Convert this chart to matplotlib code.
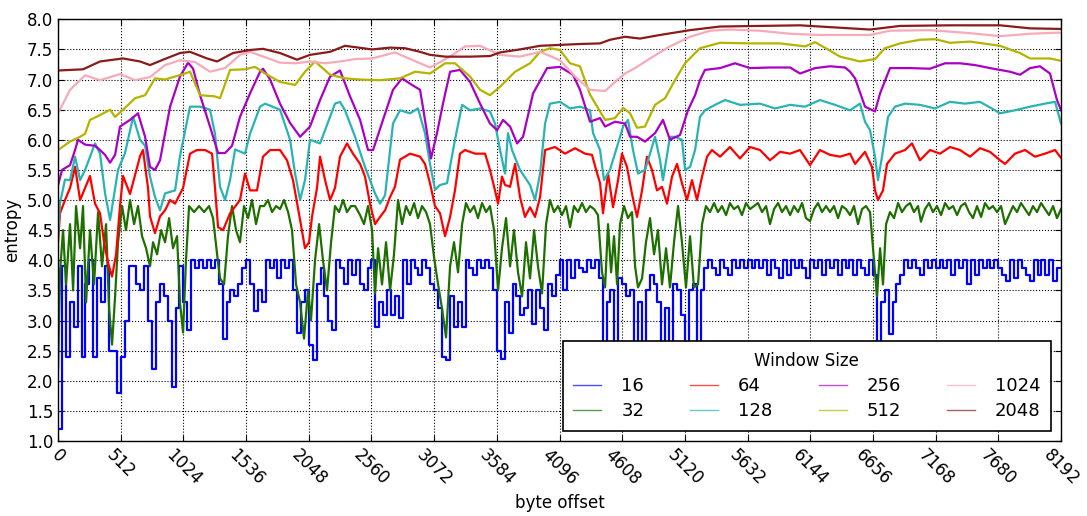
import numpy as np
import matplotlib
matplotlib.use("Agg")
import matplotlib.pyplot as plt
from matplotlib.lines import Line2D

# window sizes and their colours
windows = ["16", "32", "64", "128", "256", "512", "1024", "2048"]
colors = ["#0000ff", "#1d6f00", "#ff0000", "#2ab3b3",
          "#aa00c3", "#b4b400", "#f7aab8", "#8b1a1a"]

# window 16: one value every 32 bytes (quantised entropy)
w16_x = np.arange(0, 8193, 32)
w16_y = [
    1.2, 3.9, 2.4, 3.3, 2.9, 3.9, 2.4, 3.6, 4.0, 2.4, 3.7, 3.3, 3.9, 2.5, 2.5, 1.8,
    2.4, 3.0, 3.9, 3.9, 3.6, 3.5, 3.9, 3.0, 2.2, 3.3, 3.6, 3.4, 3.0, 1.9, 3.2, 3.9,
    3.3, 2.85, 4.0, 3.875, 4.0, 3.875, 4.0, 3.875, 4.0, 3.6, 2.7, 3.3, 3.5, 3.4, 3.6, 3.875,
    4.0, 3.6, 3.15, 3.5, 3.3, 4.0, 3.875, 4.0, 3.7, 4.0, 3.875, 4.0, 3.5, 2.8, 3.3, 3.5,
    2.6, 2.35, 3.6, 3.875, 3.4, 3.0, 2.85, 4.0, 3.875, 3.6, 4.0, 3.75, 4.0, 3.6, 3.5, 3.875,
    4.0, 2.9, 3.3, 3.1, 3.5, 3.1, 3.4, 3.05, 4.0, 3.6, 4.0, 3.875, 3.75, 4.0, 3.875, 3.6,
    3.5, 3.2, 2.4, 2.35, 3.4, 2.9, 3.3, 2.9, 4.0, 3.875, 3.75, 4.0, 3.875, 4.0, 3.875, 3.5,
    2.5, 2.36, 3.3, 2.8, 3.6, 3.4, 3.1, 3.2, 3.5, 2.95, 3.5, 3.2, 2.85, 3.6, 3.4, 3.75,
    4.0, 3.5, 4.0, 3.7, 4.0, 3.875, 3.8, 4.0, 3.875, 4.0, 3.7, 2.3, 3.3, 3.5, 2.5, 3.7,
    3.6, 3.4, 3.5, 2.3, 3.3, 2.4, 3.5, 3.75, 3.6, 3.3, 2.3, 3.2, 2.4, 3.6, 3.5, 3.1,
    2.3, 3.5, 3.6, 2.6, 3.5, 3.875, 4.0, 3.875, 3.75, 4.0, 3.875, 3.75, 4.0, 3.875, 4.0, 3.875,
    4.0, 3.875, 4.0, 3.875, 4.0, 3.75, 4.0, 3.875, 3.7, 4.0, 3.75, 4.0, 3.875, 4.0, 3.875, 3.7,
    4.0, 3.875, 4.0, 3.75, 4.0, 3.875, 4.0, 3.75, 4.0, 3.875, 4.0, 3.75, 4.0, 3.875, 3.75, 4.0,
    3.75, 2.65, 3.3, 3.5, 2.78, 3.3, 3.6, 3.75, 4.0, 3.875, 4.0, 3.875, 3.75, 4.0, 3.875, 4.0,
    3.875, 4.0, 3.875, 4.0, 3.75, 4.0, 3.875, 4.0, 3.6, 4.0, 3.75, 4.0, 3.875, 4.0, 3.875, 4.0,
    3.875, 3.75, 3.65, 4.0, 3.7, 4.0, 3.875, 3.75, 3.65, 4.0, 3.75, 4.0, 3.75, 4.0, 3.65, 3.875,
    3.875,
]

# the other windows: (byte offset, entropy) pairs
w32 = [
    (0, 2.2), (16, 3.8), (41, 4.5), (65, 3.6), (98, 4.6), (123, 3.5), (147, 4.9), (180, 4.2),
    (204, 4.9), (229, 3.3), (261, 4.5), (294, 3.6), (327, 4.8), (359, 3.9), (392, 4.6), (417, 3.2),
    (441, 2.6), (466, 3.4), (490, 4.3), (523, 4.9), (555, 4.5), (588, 5.0), (621, 4.6), (653, 4.9),
    (686, 4.4), (719, 4.2), (751, 3.9), (776, 4.3), (809, 4.1), (841, 4.5), (874, 4.3), (907, 4.7),
    (939, 4.2), (972, 4.4), (996, 3.3), (1021, 2.8), (1045, 4.0), (1070, 4.9), (1111, 4.8), (1152, 4.9),
    (1193, 4.8), (1233, 4.9), (1266, 4.7), (1299, 4.1), (1323, 3.7), (1356, 3.6), (1388, 4.4), (1421, 4.9),
    (1454, 4.5), (1486, 4.3), (1519, 4.9), (1552, 4.7), (1584, 5.0), (1617, 4.6), (1650, 4.9), (1683, 4.9),
    (1715, 5.0), (1748, 4.8), (1781, 4.9), (1813, 4.85), (1846, 5.0), (1879, 4.8), (1911, 4.5), (1944, 3.6),
    (1977, 3.3), (2009, 2.7), (2042, 3.5), (2066, 3.0), (2099, 4.0), (2132, 4.6), (2164, 4.0), (2197, 3.5),
    (2230, 4.3), (2262, 4.9), (2295, 4.8), (2328, 5.0), (2360, 4.8), (2393, 4.9), (2426, 4.9), (2467, 4.75),
    (2499, 4.6), (2532, 4.9), (2565, 4.5), (2589, 3.45), (2614, 4.2), (2646, 3.6), (2679, 4.3), (2712, 3.5),
    (2744, 4.1), (2777, 5.0), (2810, 4.6), (2842, 4.9), (2875, 4.75), (2908, 4.95), (2940, 4.7), (2973, 4.9),
    (3006, 4.8), (3038, 4.6), (3071, 4.05), (3104, 3.6), (3136, 3.2), (3169, 2.72), (3202, 3.9), (3234, 4.3),
    (3267, 3.8), (3300, 4.6), (3332, 4.95), (3365, 4.8), (3398, 4.9), (3430, 4.7), (3463, 4.95), (3496, 4.8),
    (3528, 4.9), (3561, 4.5), (3594, 3.5), (3626, 4.2), (3659, 4.7), (3692, 3.9), (3724, 4.5), (3757, 3.8),
    (3790, 3.4), (3822, 4.3), (3855, 3.7), (3888, 4.5), (3920, 3.9), (3953, 3.45), (3986, 4.6), (4018, 5.0),
    (4051, 4.8), (4084, 4.9), (4116, 4.75), (4149, 4.9), (4182, 4.55), (4214, 4.9), (4247, 4.8), (4280, 4.95),
    (4312, 4.8), (4345, 4.9), (4378, 4.85), (4410, 4.75), (4443, 3.8), (4468, 3.55), (4492, 4.6), (4517, 3.8),
    (4541, 4.4), (4566, 3.6), (4590, 4.6), (4623, 4.9), (4655, 4.7), (4688, 4.8), (4713, 3.9), (4737, 3.55),
    (4770, 3.7), (4802, 4.3), (4835, 4.7), (4868, 4.1), (4900, 4.5), (4933, 3.6), (4966, 4.2), (4998, 3.55),
    (5031, 4.3), (5064, 4.9), (5096, 4.3), (5129, 3.55), (5162, 4.4), (5194, 3.55), (5227, 3.6), (5260, 4.6),
    (5292, 4.9), (5325, 4.8), (5358, 4.95), (5390, 4.8), (5423, 4.9), (5456, 4.75), (5488, 4.95), (5521, 4.85),
    (5554, 4.9), (5586, 4.75), (5619, 4.95), (5652, 4.85), (5685, 4.9), (5717, 4.95), (5750, 4.8), (5783, 4.9),
    (5815, 4.6), (5848, 4.85), (5881, 4.95), (5913, 4.8), (5946, 4.9), (5979, 4.75), (6011, 4.9), (6044, 4.8),
    (6077, 4.95), (6109, 4.7), (6142, 4.65), (6175, 4.85), (6207, 4.95), (6240, 4.8), (6273, 4.9), (6305, 4.8),
    (6338, 4.9), (6371, 4.7), (6403, 4.9), (6436, 4.85), (6469, 4.75), (6501, 4.9), (6534, 4.6), (6567, 4.85),
    (6599, 4.9), (6632, 4.8), (6665, 4.0), (6689, 3.4), (6714, 4.2), (6738, 3.6), (6763, 4.6), (6795, 4.8),
    (6828, 4.7), (6861, 4.95), (6893, 4.8), (6926, 4.9), (6959, 4.95), (6991, 4.8), (7024, 4.9), (7048, 4.64),
    (7081, 4.85), (7114, 4.95), (7146, 4.8), (7179, 4.9), (7212, 4.75), (7245, 4.95), (7277, 4.85), (7310, 4.9),
    (7343, 4.75), (7375, 4.9), (7408, 4.95), (7441, 4.8), (7473, 4.7), (7506, 4.9), (7539, 4.72), (7571, 4.95),
    (7604, 4.85), (7636, 4.9), (7669, 4.8), (7702, 4.9), (7735, 4.6), (7767, 4.75), (7800, 4.9), (7833, 4.8),
    (7865, 4.95), (7898, 4.85), (7931, 4.75), (7963, 4.9), (7996, 4.8), (8029, 4.95), (8061, 4.85), (8094, 4.75),
    (8127, 4.9), (8159, 4.7), (8192, 4.85),
]

w64 = [
    (0, 4.3), (16, 4.78), (57, 5.0), (98, 5.2), (139, 5.55), (180, 5.0), (221, 5.2), (261, 5.4),
    (302, 4.94), (343, 4.78), (376, 4.3), (408, 3.96), (441, 3.73), (474, 4.1), (506, 4.9), (531, 5.4),
    (588, 5.1), (670, 5.73), (694, 5.83), (735, 5.2), (751, 4.73), (792, 4.45), (833, 4.73), (874, 4.83),
    (915, 5.0), (956, 4.94), (1021, 5.2), (1078, 5.77), (1135, 5.83), (1201, 5.83), (1258, 5.77), (1282, 5.2),
    (1307, 4.55), (1348, 4.5), (1405, 4.78), (1486, 5.0), (1527, 5.44), (1568, 5.16), (1625, 5.16), (1674, 5.72),
    (1732, 5.83), (1813, 5.83), (1870, 5.66), (1919, 5.33), (1977, 4.67), (2017, 4.2), (2050, 4.3), (2075, 4.73),
    (2115, 5.2), (2140, 5.72), (2181, 5.33), (2222, 5.0), (2262, 5.2), (2303, 5.72), (2360, 5.94), (2409, 5.77),
    (2467, 5.6), (2507, 5.39), (2548, 4.94), (2589, 4.6), (2630, 4.72), (2671, 4.83), (2712, 5.05), (2752, 5.22),
    (2793, 5.67), (2875, 5.77), (2957, 5.72), (2997, 5.6), (3038, 5.28), (3079, 4.9), (3120, 4.78), (3161, 4.4),
    (3202, 4.72), (3242, 5.16), (3283, 5.77), (3324, 5.83), (3406, 5.77), (3488, 5.77), (3528, 5.5), (3569, 5.16),
    (3594, 4.94), (3626, 5.39), (3651, 5.25), (3692, 5.22), (3733, 5.6), (3773, 5.05), (3814, 4.72), (3855, 4.88),
    (3896, 4.72), (3937, 5.05), (3978, 5.83), (4059, 5.88), (4141, 5.77), (4223, 5.86), (4304, 5.77), (4361, 5.75),
    (4402, 5.45), (4427, 5.28), (4451, 4.78), (4492, 5.44), (4533, 4.88), (4574, 5.33), (4606, 5.77), (4647, 5.55),
    (4688, 5.1), (4729, 4.72), (4770, 5.16), (4810, 5.72), (4851, 5.5), (4892, 5.16), (4933, 5.22), (4974, 4.94),
    (5015, 5.39), (5056, 5.6), (5096, 5.28), (5137, 5.0), (5178, 5.33), (5219, 5.0), (5260, 5.39), (5301, 5.72),
    (5341, 5.83), (5407, 5.72), (5488, 5.88), (5570, 5.69), (5652, 5.88), (5734, 5.83), (5815, 5.66), (5897, 5.8),
    (5979, 5.77), (6060, 5.83), (6142, 5.58), (6223, 5.83), (6305, 5.75), (6387, 5.72), (6469, 5.77), (6510, 5.6),
    (6591, 5.8), (6648, 5.55), (6673, 5.16), (6697, 5.0), (6738, 5.16), (6771, 5.6), (6836, 5.77), (6918, 5.83),
    (6975, 5.94), (7040, 5.66), (7122, 5.83), (7204, 5.77), (7285, 5.88), (7367, 5.83), (7449, 5.72), (7530, 5.86),
    (7612, 5.8), (7694, 5.66), (7735, 5.6), (7816, 5.77), (7898, 5.83), (7980, 5.72), (8061, 5.77), (8143, 5.83),
    (8192, 5.7),
]

w128 = [
    (0, 4.4), (16, 4.95), (57, 5.34), (98, 5.33), (139, 5.72), (180, 5.33), (221, 5.5), (302, 5.94),
    (343, 5.77), (384, 5.11), (425, 4.67), (490, 5.5), (547, 5.78), (613, 6.38), (670, 6.0), (711, 5.9),
    (751, 5.39), (792, 5.05), (833, 4.83), (874, 5.11), (956, 5.16), (996, 5.73), (1078, 6.55), (1160, 6.55),
    (1241, 6.5), (1282, 6.1), (1323, 5.22), (1364, 5.0), (1405, 5.33), (1446, 5.84), (1527, 5.77), (1568, 6.1),
    (1650, 6.55), (1691, 6.6), (1813, 6.5), (1895, 6.0), (1936, 5.44), (1977, 5.0), (2017, 5.33), (2058, 6.0),
    (2140, 5.94), (2181, 6.16), (2262, 6.6), (2303, 6.63), (2344, 6.49), (2426, 6.05), (2507, 5.55), (2589, 5.11),
    (2630, 4.94), (2671, 5.08), (2736, 6.27), (2793, 6.49), (2875, 6.44), (2940, 6.52), (2997, 6.11), (3038, 5.6),
    (3079, 5.17), (3120, 5.25), (3177, 5.28), (3242, 6.0), (3300, 6.58), (3365, 6.49), (3447, 6.52), (3528, 6.47),
    (3569, 6.27), (3610, 5.83), (3651, 5.44), (3675, 6.11), (3708, 5.83), (3773, 5.5), (3855, 5.25), (3896, 5.0),
    (3937, 5.44), (3978, 6.27), (4018, 6.6), (4100, 6.63), (4182, 6.52), (4263, 6.55), (4345, 6.49), (4370, 6.11),
    (4427, 5.83), (4459, 5.33), (4508, 5.5), (4574, 5.94), (4615, 6.22), (4655, 6.33), (4696, 5.83), (4737, 5.44),
    (4794, 5.5), (4835, 5.77), (4876, 6.05), (4917, 5.66), (4941, 5.33), (4998, 6.05), (5039, 6.05), (5096, 6.0),
    (5121, 5.5), (5162, 5.55), (5203, 5.83), (5243, 6.38), (5284, 6.49), (5366, 6.58), (5448, 6.66), (5570, 6.58),
    (5734, 6.6), (5856, 6.52), (5979, 6.58), (6101, 6.55), (6223, 6.66), (6346, 6.58), (6469, 6.49), (6550, 6.6),
    (6591, 6.3), (6632, 6.16), (6673, 5.72), (6697, 5.33), (6730, 5.72), (6779, 6.38), (6836, 6.55), (6918, 6.6),
    (7040, 6.58), (7163, 6.52), (7285, 6.63), (7408, 6.6), (7530, 6.63), (7653, 6.49), (7694, 6.44), (7816, 6.49),
    (7939, 6.55), (8061, 6.6), (8143, 6.63), (8192, 6.27),
]

w256 = [
    (0, 5.25), (33, 5.5), (98, 5.58), (139, 5.83), (163, 6.0), (221, 5.92), (302, 5.9), (343, 5.83),
    (384, 5.75), (425, 5.62), (466, 5.75), (506, 6.22), (588, 6.33), (653, 6.44), (711, 6.05), (751, 5.55),
    (792, 5.5), (833, 5.66), (915, 6.55), (996, 7.05), (1062, 7.28), (1103, 7.18), (1160, 6.74), (1241, 6.22),
    (1307, 5.78), (1364, 5.78), (1421, 5.9), (1486, 6.38), (1568, 6.77), (1650, 7.13), (1674, 7.18), (1732, 7.0),
    (1813, 6.6), (1895, 6.28), (1977, 6.05), (2058, 6.22), (2140, 6.66), (2222, 7.05), (2303, 7.15), (2385, 6.72),
    (2467, 6.33), (2532, 5.83), (2573, 5.83), (2654, 6.33), (2736, 6.83), (2810, 7.02), (2891, 6.91), (2957, 6.83),
    (2997, 6.33), (3046, 5.69), (3095, 6.11), (3144, 6.6), (3202, 7.13), (3283, 7.16), (3365, 6.96), (3447, 6.6),
    (3528, 6.27), (3586, 6.16), (3635, 6.33), (3692, 6.22), (3749, 5.94), (3798, 6.05), (3880, 6.77), (3994, 7.19),
    (4100, 7.21), (4206, 7.08), (4263, 6.83), (4345, 6.3), (4427, 6.36), (4468, 6.22), (4549, 6.3), (4631, 6.27),
    (4672, 6.05), (4729, 6.05), (4794, 5.97), (4876, 6.11), (4941, 6.33), (4998, 6.0), (5080, 6.08), (5145, 6.49),
    (5203, 6.74), (5243, 6.99), (5284, 7.16), (5407, 7.19), (5529, 7.27), (5652, 7.19), (5815, 7.2), (5979, 7.2),
    (6060, 7.1), (6183, 7.19), (6305, 7.22), (6428, 7.2), (6469, 7.13), (6510, 7.02), (6591, 6.55), (6673, 6.47),
    (6714, 6.77), (6795, 7.19), (6959, 7.19), (7122, 7.18), (7245, 7.27), (7367, 7.27), (7490, 7.24), (7612, 7.19),
    (7775, 7.13), (7857, 7.08), (7939, 7.19), (8020, 7.22), (8102, 7.1), (8159, 6.66), (8192, 6.49),
]

w512 = [
    (0, 5.83), (98, 5.97), (180, 6.05), (221, 6.1), (261, 6.33), (343, 6.41), (425, 6.5), (466, 6.38),
    (547, 6.53), (629, 6.69), (711, 6.74), (792, 7.02), (874, 7.0), (956, 7.05), (1037, 7.1), (1078, 7.13),
    (1160, 6.74), (1282, 6.72), (1323, 6.69), (1405, 7.16), (1527, 7.17), (1609, 7.21), (1691, 7.1), (1813, 6.96),
    (1936, 6.91), (2017, 7.13), (2099, 7.3), (2222, 7.08), (2344, 7.02), (2467, 7.0), (2630, 6.99), (2793, 7.02),
    (2916, 7.13), (3038, 7.1), (3161, 7.27), (3242, 7.27), (3365, 7.05), (3447, 6.83), (3528, 6.74), (3610, 6.88),
    (3733, 7.13), (3855, 7.27), (3937, 7.46), (4018, 7.52), (4100, 7.49), (4182, 7.27), (4263, 7.22), (4345, 6.75),
    (4427, 6.47), (4468, 6.33), (4549, 6.36), (4615, 6.53), (4672, 6.44), (4729, 6.2), (4794, 6.22), (4876, 6.58),
    (4958, 6.69), (5039, 6.99), (5121, 7.27), (5243, 7.52), (5407, 7.61), (5652, 7.6), (5897, 7.6), (6101, 7.55),
    (6183, 7.62), (6305, 7.48), (6387, 7.38), (6550, 7.3), (6673, 7.34), (6754, 7.52), (6877, 7.6), (7040, 7.66),
    (7163, 7.67), (7285, 7.61), (7449, 7.63), (7694, 7.56), (7857, 7.44), (7939, 7.35), (8102, 7.35), (8192, 7.31),
]

w1024 = [
    (0, 6.44), (98, 6.83), (221, 7.07), (343, 6.99), (506, 7.09), (629, 6.99), (751, 7.04), (874, 7.24),
    (996, 7.32), (1119, 7.29), (1241, 7.13), (1364, 7.19), (1486, 7.41), (1568, 7.46), (1691, 7.37), (1813, 7.28),
    (1936, 7.27), (2058, 7.3), (2181, 7.27), (2303, 7.3), (2426, 7.34), (2565, 7.35), (2752, 7.45), (2957, 7.27),
    (3038, 7.2), (3202, 7.38), (3324, 7.55), (3447, 7.56), (3610, 7.41), (3773, 7.38), (3937, 7.46), (4100, 7.32),
    (4223, 7.05), (4345, 6.83), (4468, 6.81), (4549, 6.96), (4631, 7.1), (4713, 7.19), (4835, 7.35), (4998, 7.55),
    (5162, 7.71), (5325, 7.81), (5488, 7.83), (5734, 7.81), (5979, 7.76), (6223, 7.74), (6469, 7.74), (6632, 7.74),
    (6795, 7.81), (7122, 7.82), (7449, 7.77), (7694, 7.72), (7939, 7.76), (8192, 7.78),
]

w2048 = [
    (0, 7.15), (204, 7.17), (343, 7.3), (531, 7.35), (670, 7.3), (751, 7.24), (858, 7.33), (996, 7.44),
    (1078, 7.46), (1217, 7.35), (1299, 7.3), (1429, 7.44), (1568, 7.49), (1674, 7.51), (1813, 7.44), (1952, 7.33),
    (2058, 7.41), (2222, 7.46), (2344, 7.56), (2565, 7.5), (2712, 7.53), (2834, 7.52), (2957, 7.46), (3038, 7.41),
    (3161, 7.38), (3365, 7.38), (3528, 7.39), (3610, 7.45), (3773, 7.5), (3937, 7.56), (4263, 7.59), (4427, 7.6),
    (4508, 7.66), (4631, 7.71), (4753, 7.68), (4917, 7.74), (5162, 7.82), (5407, 7.88), (5734, 7.89), (6060, 7.9),
    (6223, 7.88), (6469, 7.85), (6632, 7.83), (6877, 7.89), (7285, 7.9), (7694, 7.9), (7939, 7.85), (8192, 7.84),
]

xticks = list(range(0, 8193, 512))

fig = plt.figure(figsize=(10.87, 5.16), dpi=100)
ax = fig.add_axes([0.0534, 0.1453, 0.9227, 0.8173])

ax.plot(w16_x, w16_y, color=colors[0], lw=1.6, drawstyle="steps-post")
for pts, c in zip([w32, w64, w128, w256, w512, w1024, w2048], colors[1:]):
    xs, ys = zip(*pts)
    ax.plot(xs, ys, color=c, lw=1.6)

ax.set_xlim(0, 8192)
ax.set_ylim(1.0, 8.0)
ax.set_xticks(xticks)
ax.set_xticklabels([str(t) for t in xticks], rotation=-45, ha="center")
ax.set_yticks(np.arange(1.0, 8.01, 0.5))
ax.set_yticklabels(["%.1f" % v for v in np.arange(1.0, 8.01, 0.5)])
ax.tick_params(direction="in", length=4, top=True, right=True, labelsize=12)
ax.grid(True, color="k", linestyle=":", linewidth=0.8)
for s in ax.spines.values():
    s.set_linewidth(1.0)

ax.set_xlabel("byte offset", fontsize=12)
ax.set_ylabel("entropy", fontsize=12)

handles = [Line2D([], [], color=c, lw=1.0, alpha=0.7) for c in colors]
leg = ax.legend(handles, windows, loc="lower right", ncol=4, title="Window Size",
                fontsize=13, title_fontsize=12, fancybox=False, framealpha=1,
                edgecolor="k", handlelength=1.55, handletextpad=1.1,
                columnspacing=2.55, borderaxespad=0.55, labelspacing=0.4,
                borderpad=0.6)
leg.get_frame().set_linewidth(1.2)

fig.savefig("out.png", dpi=100, facecolor="white")
